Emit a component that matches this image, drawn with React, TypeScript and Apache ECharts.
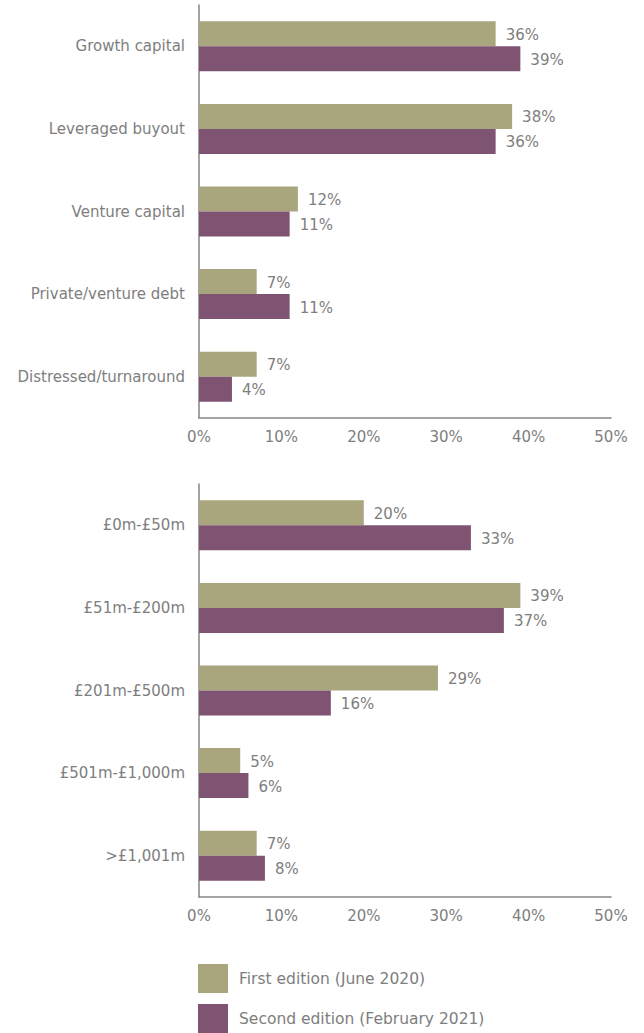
import React, { useEffect, useRef } from "react";
import * as echarts from "echarts";

const seriesNames = ["First edition (June 2020)", "Second edition (February 2021)"];
const strategyCats = ["Growth capital", "Leveraged buyout", "Venture capital", "Private/venture debt", "Distressed/turnaround"];
const strategyFirst = [36, 38, 12, 7, 7];
const strategySecond = [39, 36, 11, 11, 4];
const sizeCats = ["£0m-£50m", "£51m-£200m", "£201m-£500m", "£501m-£1,000m", ">£1,001m"];
const sizeFirst = [20, 39, 29, 5, 7];
const sizeSecond = [33, 37, 16, 6, 8];

const OLIVE = "#a9a67e";
const PURPLE = "#7f5473";
const TEXT = "#7e7e7e";
const AXIS = "#858585";
const FONT = "DejaVu Sans";

export default function App() {
  const ref = useRef<HTMLDivElement>(null);
  useEffect(() => {
    document.body.style.margin = "0";
    const chart = echarts.init(ref.current!, null, { renderer: "svg" });
    const xAxis = (gi: number) => ({
      type: "value",
      gridIndex: gi,
      min: 0,
      max: 50,
      interval: 10,
      axisLine: { show: true, lineStyle: { color: AXIS, width: 1.5 } },
      axisTick: { show: false },
      splitLine: { show: false },
      axisLabel: { color: TEXT, fontSize: 15, fontFamily: FONT, margin: 11, formatter: "{value}%" },
    });
    const yAxis = (gi: number, cats: string[]) => ({
      type: "category",
      gridIndex: gi,
      data: cats,
      inverse: true,
      axisLine: { show: true, lineStyle: { color: AXIS, width: 1.5 } },
      axisTick: { show: false },
      axisLabel: { color: TEXT, fontSize: 15, fontFamily: FONT, margin: 14, padding: [4, 0, 0, 0] },
    });
    const bar = (name: string, data: number[], color: string, gi: number) => ({
      type: "bar",
      name,
      data,
      xAxisIndex: gi,
      yAxisIndex: gi,
      barWidth: 25,
      barGap: "0%",
      itemStyle: { color },
      label: {
        show: true,
        position: "right",
        distance: 10,
        offset: [0, 1],
        color: TEXT,
        fontSize: 15,
        fontFamily: FONT,
        formatter: "{c}%",
      },
    });
    chart.setOption({
      animation: false,
      grid: [
        { left: 199, right: 33, top: 5, height: 413 },
        { left: 199, right: 33, top: 484, height: 413 },
      ],
      xAxis: [xAxis(0), xAxis(1)],
      yAxis: [yAxis(0, strategyCats), yAxis(1, sizeCats)],
      legend: {
        orient: "vertical",
        left: 198,
        top: 964,
        itemWidth: 30,
        itemHeight: 29,
        itemGap: 11,
        icon: "rect",
        data: seriesNames,
        textStyle: { color: TEXT, fontSize: 15.5, fontFamily: FONT, padding: [6, 0, 0, 6] },
        padding: 0,
      },
      series: [
        bar(seriesNames[0], strategyFirst, OLIVE, 0),
        bar(seriesNames[1], strategySecond, PURPLE, 0),
        bar(seriesNames[0], sizeFirst, OLIVE, 1),
        bar(seriesNames[1], sizeSecond, PURPLE, 1),
      ],
    });
    return () => chart.dispose();
  }, []);
  return <div ref={ref} style={{ position: "absolute", left: 0, top: 0, width: 644, height: 1033 }} />;
}
